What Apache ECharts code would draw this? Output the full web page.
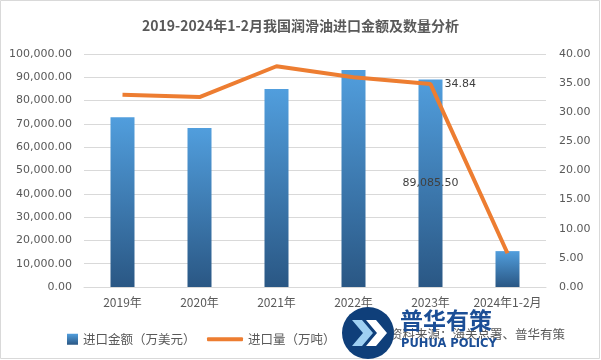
<!DOCTYPE html>
<html><head><meta charset="utf-8">
<script src="https://cdn.jsdelivr.net/npm/echarts@6/dist/echarts.min.js"></script>
<style>html,body{margin:0;padding:0;background:#fff}#c{width:601px;height:360px}</style>
</head><body><div id="c"></div>
<script>
const categories = ['2019年','2020年','2021年','2022年','2023年','2024年1-2月'];
const amountValues = [72900, 68200, 85000, 93100, 89085.50, 15400];
const volumeValues = [33.0, 32.6, 37.9, 36.0, 34.84, 5.8];
const amountName = '进口金额（万美元）';
const volumeName = '进口量（万吨）';
const titleText = '2019-2024年1-2月我国润滑油进口金额及数量分析';
const sourceText = '资料来源：海关总署、普华有策';
const labeledIndex = 4;

function fmt(v){
  return Number(v).toFixed(2).replace(/\B(?=(\d{3})+(?!\d))/g, ',');
}
const numFont = 'DejaVu Sans';
const cjkFont = '"Noto Sans CJK SC", "DejaVu Sans"';
const chart = echarts.init(document.getElementById('c'));
const barGrad = new echarts.graphic.LinearGradient(0,0,0,1,[
  {offset:0,color:'#519EDD'},{offset:1,color:'#2A5784'}]);
chart.setOption({
  animation:false,
  title:{text:titleText,left:'center',top:14,textStyle:{fontFamily:cjkFont,fontSize:14,fontWeight:'bold',color:'#595959'}},
  grid:{left:84,right:55,top:54,bottom:73},
  legend:[
    {data:[amountName],left:62,top:328,itemWidth:11,itemHeight:11,icon:'rect',
     textStyle:{fontFamily:cjkFont,fontSize:12.5,color:'#595959'},itemGap:4},
    {data:[volumeName],left:202,top:328,itemWidth:36,itemHeight:4,icon:'roundRect',
     textStyle:{fontFamily:cjkFont,fontSize:12.5,color:'#595959'},itemGap:4}
  ],
  xAxis:{type:'category',data:categories,
    axisLine:{lineStyle:{color:'#d9d9d9'}},axisTick:{show:false},
    axisLabel:{fontFamily:cjkFont,fontSize:12,color:'#595959',margin:9,interval:0}},
  yAxis:[
    {type:'value',min:0,max:100000,interval:10000,
     splitLine:{lineStyle:{color:'#d9d9d9'}},axisLine:{show:false},axisTick:{show:false},
     axisLabel:{fontFamily:numFont,fontSize:11,color:'#595959',margin:12,formatter:fmt}},
    {type:'value',min:0,max:40,interval:5,
     splitLine:{show:false},axisLine:{show:false},axisTick:{show:false},
     axisLabel:{fontFamily:numFont,fontSize:11,color:'#595959',margin:13,formatter:fmt}}
  ],
  series:[
    {name:amountName,type:'bar',barWidth:24,yAxisIndex:0,
     itemStyle:{color:barGrad},
     data:amountValues.map((v,i)=>i===labeledIndex?{value:v,label:{show:true,position:'inside',formatter:p=>fmt(p.value),fontFamily:numFont,fontSize:11,color:'#404040'}}:v)},
    {name:volumeName,type:'line',yAxisIndex:1,symbol:'circle',symbolSize:0,
     lineStyle:{color:'#ED7D31',width:4},itemStyle:{color:'#ED7D31'},
     data:volumeValues.map((v,i)=>i===labeledIndex?{value:v,label:{show:true,position:'right',distance:14,formatter:p=>fmt(p.value),fontFamily:numFont,fontSize:11,color:'#404040'}}:v)}
  ],
  graphic:[
    {type:'rect',shape:{x:0.5,y:0.5,width:599,height:358},style:{fill:'none',stroke:'#d9d9d9',lineWidth:1},silent:true},
    {type:'text',left:390,top:328,style:{text:sourceText,font:'12.5px "Noto Sans CJK SC"',fill:'#595959'}},
    {type:'circle',shape:{cx:368,cy:333,r:26},style:{fill:'#0F3F7A'},z:100},
    {type:'polygon',shape:{points:[[352,320],[362,320],[373,333],[362,346],[352,346],[363,333]]},style:{fill:'#9FD0F2'},z:101},
    {type:'polygon',shape:{points:[[366,320],[376,320],[387,333],[376,346],[366,346],[377,333]]},style:{fill:'#FFFFFF'},z:101},
    {type:'text',left:400,top:309,style:{text:'普华有策',font:'bold 23px "Noto Sans CJK SC"',fill:'#1B4E96'},z:100},
    {type:'text',left:401,top:338,style:{text:'PUHUA POLICY',font:'bold 11.5px "DejaVu Sans"',fill:'#1B4E96'},z:100}
  ]
});
</script></body></html>
